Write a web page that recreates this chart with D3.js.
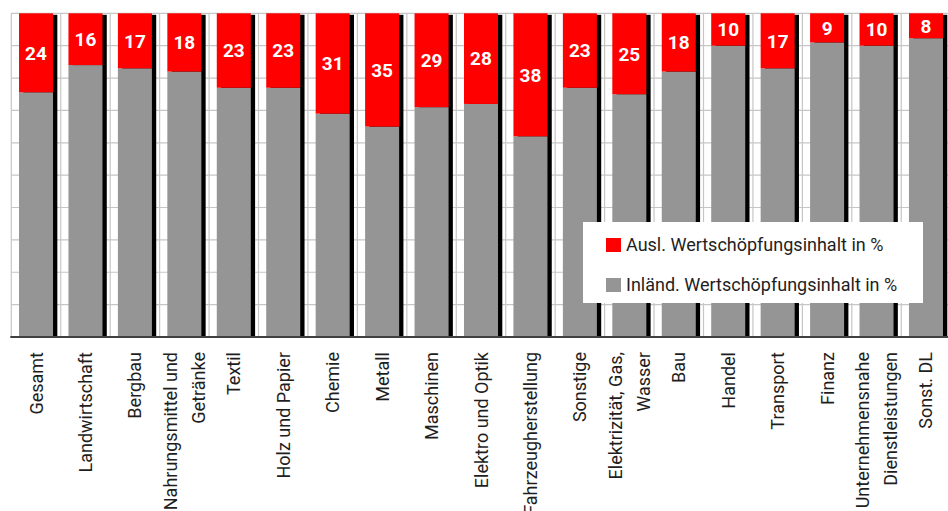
<!DOCTYPE html>
<html>
<head>
<meta charset="utf-8">
<script src="https://cdn.jsdelivr.net/npm/d3@7"></script>
<style>
  html, body { margin: 0; padding: 0; background: #fff; }
  svg { display: block; }
</style>
</head>
<body>
<svg id="chart" width="948" height="511"></svg>
<script>
const categories = [
  "Gesamt", "Landwirtschaft", "Bergbau", "Nahrungsmittel und\nGetränke", "Textil",
  "Holz und Papier", "Chemie", "Metall", "Maschinen", "Elektro und Optik",
  "Fahrzeugherstellung", "Sonstige", "Elektrizität, Gas,\nWasser", "Bau", "Handel",
  "Transport", "Finanz", "Unternehmensnahe\nDienstleistungen", "Sonst. DL"
];
const auslValues   = [24.4, 16, 17, 18, 23, 23, 31, 35, 29, 28, 38, 23, 25, 18, 10, 17, 9, 10, 7.7];
const inlandValues = [75.6, 84, 83, 82, 77, 77, 69, 65, 71, 72, 62, 77, 75, 82, 90, 83, 91, 90, 92.3];
const seriesNames  = ["Ausl. Wertschöpfungsinhalt in %", "Inländ. Wertschöpfungsinhalt in %"];
const seriesColors = ["#ff0000", "#959595"];
const yTicks = [0, 10, 20, 30, 40, 50, 60, 70, 80, 90, 100];

const svg = d3.select("#chart");
const pLeft = 11.3, pRight = 950.7, pTop = 13.3, pBottom = 337;

const x = d3.scaleBand().domain(categories).range([pLeft, pRight])
  .paddingInner(0.312).paddingOuter(0.156);
const y = d3.scaleLinear().domain([0, 100]).range([pBottom, pTop]);

const rows = categories.map((c, i) => ({ cat: c, inland: inlandValues[i], ausl: auslValues[i] }));
const stack = d3.stack().keys(["inland", "ausl"])(rows);

// grid
const grid = svg.append("g");
grid.selectAll("line.h").data(yTicks).join("line")
  .attr("x1", pLeft).attr("x2", pRight)
  .attr("y1", d => y(d)).attr("y2", d => y(d))
  .attr("stroke", "#c6c6c6").attr("stroke-width", 1.2);
const bounds = categories.map(c => x(c) - x.step() * x.paddingInner() / 2);
bounds.push(pRight);
grid.selectAll("line.v").data(bounds).join("line")
  .attr("x1", d => d).attr("x2", d => d)
  .attr("y1", pTop).attr("y2", pBottom)
  .attr("stroke", "#c6c6c6").attr("stroke-width", 1.2);

// shadows
svg.append("g").selectAll("rect").data(rows).join("rect")
  .attr("x", d => x(d.cat) + 4.3)
  .attr("y", d => y(d.inland + d.ausl) + 1.5)
  .attr("width", x.bandwidth())
  .attr("height", d => pBottom - y(d.inland + d.ausl) - 1.5)
  .attr("fill", "#000");

// bars
const colorByKey = { inland: seriesColors[1], ausl: seriesColors[0] };
svg.append("g").selectAll("g").data(stack).join("g")
  .attr("fill", s => colorByKey[s.key])
  .selectAll("rect").data(s => s).join("rect")
  .attr("x", d => x(d.data.cat))
  .attr("y", d => y(d[1]))
  .attr("width", x.bandwidth())
  .attr("height", d => y(d[0]) - y(d[1]));

// value labels
const auslLayer = stack[1];
svg.append("g").selectAll("text").data(auslLayer).join("text")
  .attr("x", d => x(d.data.cat) + x.bandwidth() / 2)
  .attr("y", d => (y(d[0]) + y(d[1])) / 2)
  .attr("dy", "0.36em")
  .attr("text-anchor", "middle")
  .attr("font-family", "Roboto, sans-serif")
  .attr("font-weight", "bold")
  .attr("font-size", 19)
  .attr("fill", "#fff")
  .text(d => Math.round(d.data.ausl));

// x axis
const xAxis = svg.append("g").attr("transform", `translate(0,${pBottom})`)
  .call(d3.axisBottom(x).tickSize(0));
xAxis.select(".domain").remove();
svg.append("line").attr("x1", pLeft - 1).attr("x2", 948)
  .attr("y1", pBottom).attr("y2", pBottom)
  .attr("stroke", "#404040").attr("stroke-width", 2.2);

const cap = 13, lineGap = 28;
xAxis.selectAll(".tick text").each(function(d) {
  const lines = d.split("\n");
  const total = cap + (lines.length - 1) * lineGap;
  const first = -total / 2 + cap;
  const t = d3.select(this)
    .attr("x", 0).attr("y", 0).attr("dy", null)
    .attr("transform", `translate(${first},${352 - pBottom}) rotate(-90)`)
    .attr("text-anchor", "end")
    .attr("font-family", "Roboto, sans-serif")
    .attr("font-size", 18)
    .attr("fill", "#1e1e1e")
    .text(null);
  lines.forEach((ln, i) => {
    t.append("tspan").attr("x", 0).attr("dy", i === 0 ? 0 : lineGap).text(ln);
  });
});

// legend
const lg = svg.append("g");
lg.append("rect").attr("x", 583).attr("y", 222).attr("width", 340).attr("height", 81).attr("fill", "#fff");
const items = lg.selectAll("g.item").data(seriesNames).join("g")
  .attr("transform", (d, i) => `translate(606,${238 + i * 40})`);
items.append("rect").attr("width", 15).attr("height", 14)
  .attr("fill", (d, i) => seriesColors[i]);
items.append("text").attr("x", 20).attr("y", 12.5)
  .attr("font-family", "Roboto, sans-serif").attr("font-size", 18)
  .attr("fill", "#1e1e1e").text(d => d);
</script>
</body>
</html>
